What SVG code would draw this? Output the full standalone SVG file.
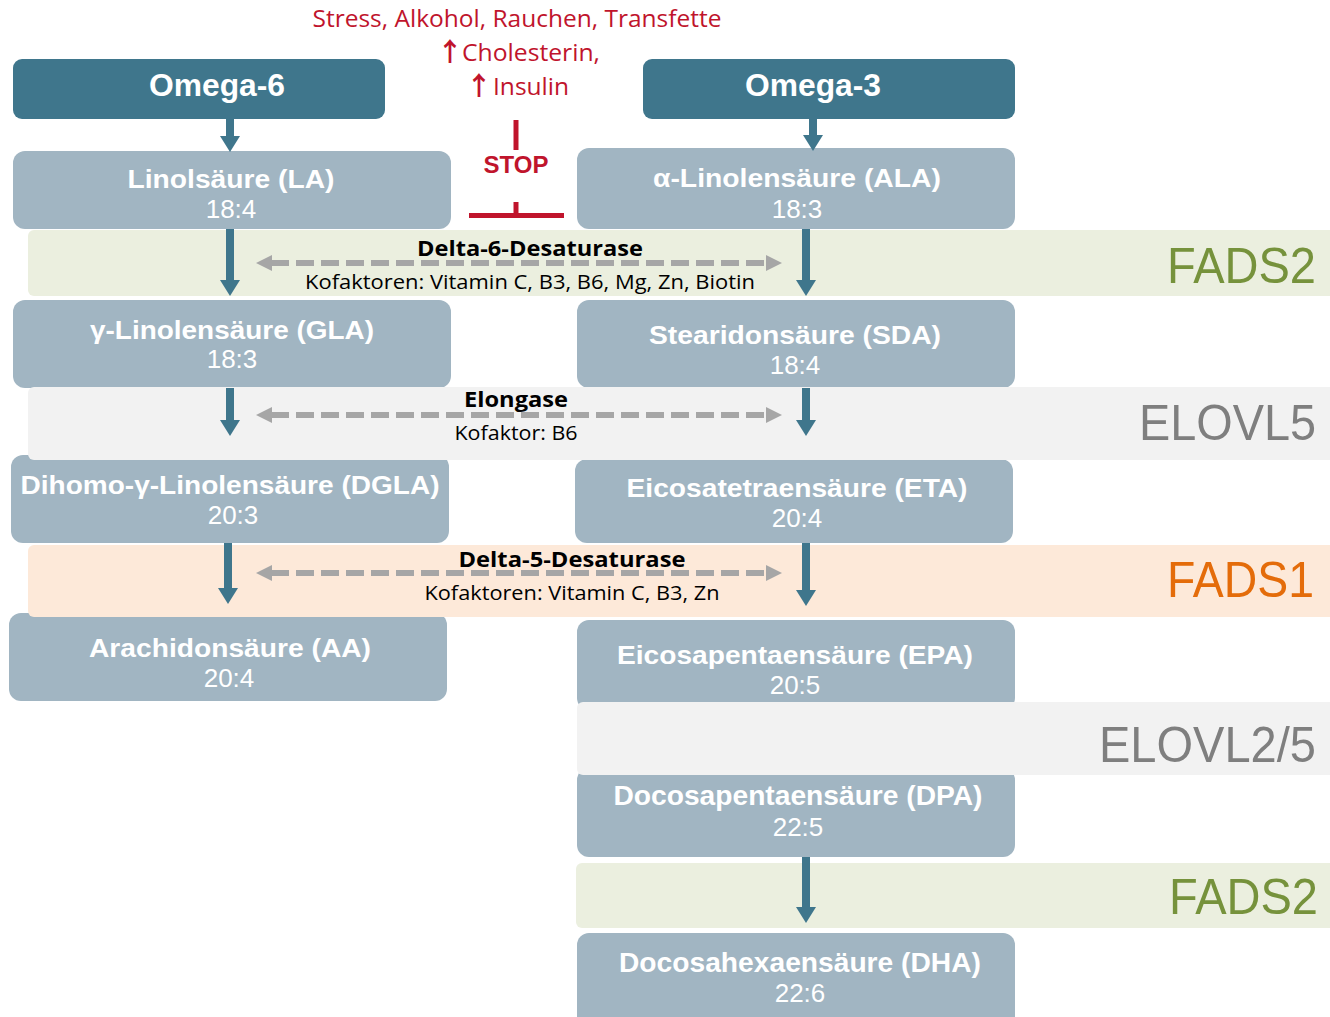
<svg xmlns="http://www.w3.org/2000/svg" width="1330" height="1017" viewBox="0 0 1330 1017">
  <style>
    .head { fill: #3F768C; }
    .acid { fill: #A1B5C2; }
    .ttl { font-family: "Liberation Sans", Arial, sans-serif; font-weight: bold; fill: #FFFFFF; text-anchor: middle; }
    .num { font-family: "Liberation Sans", Arial, sans-serif; fill: #FFFFFF; text-anchor: middle; font-size: 26px; }
    .gene { font-family: "Liberation Sans", Arial, sans-serif; font-size: 50px; text-anchor: end; }
    .enz { font-family: "Open Sans", "Noto Sans", sans-serif; fill: #000000; text-anchor: middle; }
    .red { font-family: "Open Sans", "Noto Sans", sans-serif; fill: #C0142C; font-size: 24px; }
    .up { font-family: "Noto Sans CJK SC", sans-serif; font-weight: bold; fill: #C0142C; font-size: 26px; text-anchor: middle; }
    .flow { stroke: #3F768C; stroke-width: 8; fill: none; marker-end: url(#tealHead); }
    .enzline { stroke: #A6A6A6; stroke-width: 6; fill: none; stroke-dasharray: 18 7; marker-start: url(#grayHead); marker-end: url(#grayHead); }
    .block { stroke: #C0142C; stroke-width: 5; fill: none; }
  </style>
  <defs>
    <marker id="tealHead" markerUnits="userSpaceOnUse" markerWidth="16" markerHeight="20" viewBox="0 0 16 20" refX="1" refY="10" orient="auto">
      <path d="M0,0 L16,10 L0,20 Z" fill="#3F768C"/>
    </marker>
    <marker id="grayHead" markerUnits="userSpaceOnUse" markerWidth="16" markerHeight="16" viewBox="0 0 16 16" refX="1" refY="8" orient="auto-start-reverse">
      <path d="M0,0 L16,8 L0,16 Z" fill="#A6A6A6"/>
    </marker>
  </defs>

  <!-- inhibiting factors -->
  <g id="inhibitors">
    <text class="red" x="517" y="27" text-anchor="middle" textLength="409" lengthAdjust="spacingAndGlyphs">Stress, Alkohol, Rauchen, Transfette</text>
    <text class="up" x="450" y="61">↑</text>
    <text class="red" x="462" y="61" textLength="138" lengthAdjust="spacingAndGlyphs">Cholesterin,</text>
    <text class="up" x="479" y="95">↑</text>
    <text class="red" x="493" y="95" textLength="76" lengthAdjust="spacingAndGlyphs">Insulin</text>
    <line class="block" x1="516" y1="120" x2="516" y2="150"/>
    <text x="516" y="173" font-family="Liberation Sans, Arial, sans-serif" font-weight="bold" font-size="24" fill="#C0142C" text-anchor="middle">STOP</text>
    <line class="block" x1="516" y1="202" x2="516" y2="215"/>
    <line class="block" x1="469" y1="215.5" x2="564" y2="215.5"/>
  </g>

  <!-- omega series headers -->
  <g id="omega6">
    <rect class="head" x="13" y="59" width="372" height="60" rx="9"/>
    <text class="ttl" x="217" y="96" font-size="31" textLength="136" lengthAdjust="spacingAndGlyphs">Omega-6</text>
  </g>
  <g id="omega3">
    <rect class="head" x="643" y="59" width="372" height="60" rx="9"/>
    <text class="ttl" x="813" y="96" font-size="31" textLength="136" lengthAdjust="spacingAndGlyphs">Omega-3</text>
  </g>

  <!-- omega-6 column -->
  <g id="la">
    <rect class="acid" x="13" y="151" width="438" height="78" rx="12"/>
    <text class="ttl" x="231" y="188" font-size="26" textLength="207" lengthAdjust="spacingAndGlyphs">Linolsäure (LA)</text>
    <text class="num" x="231" y="218">18:4</text>
  </g>
  <g id="gla">
    <rect class="acid" x="13" y="300" width="438" height="88" rx="12"/>
    <text class="ttl" x="232" y="339" font-size="26" textLength="284" lengthAdjust="spacingAndGlyphs">γ-Linolensäure (GLA)</text>
    <text class="num" x="232" y="368">18:3</text>
  </g>
  <g id="dgla">
    <rect class="acid" x="11" y="455" width="438" height="88" rx="12"/>
    <text class="ttl" x="230" y="494" font-size="26" textLength="419" lengthAdjust="spacingAndGlyphs">Dihomo-γ-Linolensäure (DGLA)</text>
    <text class="num" x="233" y="524">20:3</text>
  </g>
  <g id="aa">
    <rect class="acid" x="9" y="613" width="438" height="88" rx="12"/>
    <text class="ttl" x="230" y="657" font-size="26" textLength="282" lengthAdjust="spacingAndGlyphs">Arachidonsäure (AA)</text>
    <text class="num" x="229" y="687">20:4</text>
  </g>

  <!-- omega-3 column -->
  <g id="ala">
    <rect class="acid" x="577" y="148" width="438" height="81" rx="12"/>
    <text class="ttl" x="797" y="187" font-size="26" textLength="288" lengthAdjust="spacingAndGlyphs">α-Linolensäure (ALA)</text>
    <text class="num" x="797" y="218">18:3</text>
  </g>
  <g id="sda">
    <rect class="acid" x="577" y="300" width="438" height="88" rx="12"/>
    <text class="ttl" x="795" y="344" font-size="26" textLength="292" lengthAdjust="spacingAndGlyphs">Stearidonsäure (SDA)</text>
    <text class="num" x="795" y="374">18:4</text>
  </g>
  <g id="eta">
    <rect class="acid" x="575" y="459" width="438" height="84" rx="12"/>
    <text class="ttl" x="797" y="497" font-size="26" textLength="341" lengthAdjust="spacingAndGlyphs">Eicosatetraensäure (ETA)</text>
    <text class="num" x="797" y="527">20:4</text>
  </g>
  <g id="epa">
    <rect class="acid" x="577" y="620" width="438" height="90" rx="12"/>
    <text class="ttl" x="795" y="664" font-size="26" textLength="356" lengthAdjust="spacingAndGlyphs">Eicosapentaensäure (EPA)</text>
    <text class="num" x="795" y="694">20:5</text>
  </g>
  <g id="dpa">
    <rect class="acid" x="577" y="768" width="438" height="89" rx="12"/>
    <text class="ttl" x="798" y="805" font-size="27" textLength="369" lengthAdjust="spacingAndGlyphs">Docosapentaensäure (DPA)</text>
    <text class="num" x="798" y="836">22:5</text>
  </g>
  <g id="dha">
    <rect class="acid" x="577" y="933" width="438" height="100" rx="12"/>
    <text class="ttl" x="800" y="972" font-size="27" textLength="362" lengthAdjust="spacingAndGlyphs">Docosahexaensäure (DHA)</text>
    <text class="num" x="800" y="1002">22:6</text>
  </g>

  <!-- enzyme bands -->
  <g id="band-fads2">
    <rect x="28" y="230" width="1320" height="66" rx="6" fill="#EBEFDF"/>
    <text class="gene" x="1316" y="283" fill="#76923C" textLength="149" lengthAdjust="spacingAndGlyphs">FADS2</text>
  </g>
  <g id="band-elovl5">
    <rect x="28" y="387" width="1320" height="73" rx="6" fill="#F2F2F2"/>
    <text class="gene" x="1316" y="440" fill="#7F7F7F" textLength="177" lengthAdjust="spacingAndGlyphs">ELOVL5</text>
  </g>
  <g id="band-fads1">
    <rect x="28" y="545" width="1320" height="72" rx="6" fill="#FDE9D9"/>
    <text class="gene" x="1314" y="597" fill="#E46C0A" textLength="147" lengthAdjust="spacingAndGlyphs">FADS1</text>
  </g>
  <g id="band-elovl25">
    <rect x="577" y="702" width="770" height="73" rx="6" fill="#F2F2F2"/>
    <text class="gene" x="1316" y="762" fill="#7F7F7F" textLength="217" lengthAdjust="spacingAndGlyphs">ELOVL2/5</text>
  </g>
  <g id="band-fads2-dha">
    <rect x="576" y="863" width="770" height="65" rx="6" fill="#EBEFDF"/>
    <text class="gene" x="1318" y="914" fill="#76923C" textLength="149" lengthAdjust="spacingAndGlyphs">FADS2</text>
  </g>

  <!-- enzyme labels -->
  <g id="enzyme-d6d">
    <text class="enz" x="530" y="256" font-size="22" font-weight="bold" textLength="226" lengthAdjust="spacingAndGlyphs">Delta-6-Desaturase</text>
    <text class="enz" x="530" y="289" font-size="20" textLength="450" lengthAdjust="spacingAndGlyphs">Kofaktoren: Vitamin C, B3, B6, Mg, Zn, Biotin</text>
  </g>
  <g id="enzyme-elongase">
    <text class="enz" x="516" y="407" font-size="22" font-weight="bold" textLength="104" lengthAdjust="spacingAndGlyphs">Elongase</text>
    <text class="enz" x="516" y="440" font-size="20" textLength="123" lengthAdjust="spacingAndGlyphs">Kofaktor: B6</text>
  </g>
  <g id="enzyme-d5d">
    <text class="enz" x="572" y="567" font-size="22" font-weight="bold" textLength="227" lengthAdjust="spacingAndGlyphs">Delta-5-Desaturase</text>
    <text class="enz" x="572" y="600" font-size="20" textLength="295" lengthAdjust="spacingAndGlyphs">Kofaktoren: Vitamin C, B3, Zn</text>
  </g>

  <!-- connectors -->
  <g id="connectors">
    <line class="flow" x1="230" y1="119" x2="230" y2="137"/>
    <line class="flow" x1="813" y1="119" x2="813" y2="136"/>
    <line class="flow" x1="230" y1="229" x2="230" y2="281"/>
    <line class="flow" x1="806" y1="229" x2="806" y2="281"/>
    <line class="flow" x1="230" y1="388" x2="230" y2="421"/>
    <line class="flow" x1="806" y1="388" x2="806" y2="421"/>
    <line class="flow" x1="228" y1="543" x2="228" y2="589"/>
    <line class="flow" x1="806" y1="543" x2="806" y2="591"/>
    <line class="flow" x1="806" y1="857" x2="806" y2="908"/>
    <line class="enzline" x1="271" y1="263" x2="767" y2="263"/>
    <line class="enzline" x1="271" y1="415" x2="767" y2="415"/>
    <line class="enzline" x1="271" y1="573" x2="767" y2="573"/>
  </g>
</svg>
